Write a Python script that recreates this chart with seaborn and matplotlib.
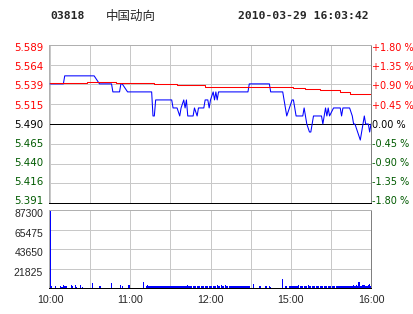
import numpy as np
import pandas as pd
import matplotlib
matplotlib.use("Agg")
import matplotlib.pyplot as plt
import matplotlib.transforms as mtransforms
import seaborn as sns

# ---------------- data ----------------
stock_code = "03818"
stock_name = "中国动向"
timestamp = "2010-03-29 16:03:42"
prev_close = 5.49

price_minutes = [0, 10, 11, 33, 37, 46, 47, 52, 53, 54, 58, 76, 77, 78, 79, 91, 92, 95, 97, 98,
                 100, 101, 102, 103, 107, 108, 110, 111, 115, 116, 118, 119, 120, 122, 123, 124,
                 125, 126, 148, 149, 164, 165, 174, 177, 179, 181, 182, 184, 189, 190, 191, 192,
                 194, 195, 196, 197, 203, 204, 205, 206, 207, 208, 209, 212, 217, 218, 219, 224,
                 226, 227, 228, 230, 232, 233, 234, 235, 236, 238, 239, 240]
price_values = [5.54, 5.54, 5.55, 5.55, 5.54, 5.54, 5.53, 5.53, 5.54, 5.54, 5.53, 5.53, 5.50, 5.50,
                5.52, 5.52, 5.51, 5.51, 5.50, 5.51, 5.52, 5.51, 5.52, 5.50, 5.50, 5.51, 5.50, 5.51,
                5.51, 5.52, 5.52, 5.51, 5.52, 5.53, 5.52, 5.53, 5.52, 5.53, 5.53, 5.54, 5.54, 5.53,
                5.53, 5.50, 5.51, 5.52, 5.52, 5.50, 5.50, 5.51, 5.50, 5.49, 5.48, 5.48, 5.49, 5.50,
                5.50, 5.49, 5.50, 5.51, 5.50, 5.51, 5.50, 5.51, 5.51, 5.50, 5.51, 5.51, 5.50, 5.49,
                5.49, 5.48, 5.47, 5.48, 5.49, 5.50, 5.49, 5.49, 5.48, 5.49]

avg_minutes = [0, 28, 49, 78, 95, 116, 182, 191, 202, 217, 224, 231, 240]
avg_values = [5.541, 5.542, 5.541, 5.540, 5.538, 5.536, 5.535, 5.533, 5.532, 5.530, 5.528, 5.527, 5.527]

volume = [
    87000, 3000, 0, 0, 2500, 0, 0, 0, 2500, 2000,
    3500, 2500, 2500, 0, 0, 0, 3500, 2500, 0, 3500,
    2000, 0, 0, 3500, 2000, 0, 0, 0, 0, 0,
    0, 0, 6000, 0, 0, 0, 0, 2500, 2500, 0,
    0, 0, 0, 0, 0, 0, 5500, 0, 0, 0,
    0, 0, 0, 3500, 2500, 0, 0, 0, 0, 3500,
    0, 0, 0, 0, 0, 0, 0, 0, 0, 0,
    7000, 0, 2500, 3500, 2200, 2200, 2500, 2200, 2200, 2500,
    2200, 2200, 2500, 2200, 2200, 2200, 2500, 2200, 2200, 2200,
    2500, 2200, 2200, 2200, 2500, 2200, 3000, 2200, 2200, 2200,
    2500, 2200, 2200, 3400, 2200, 2500, 2200, 2200, 2200, 2500,
    2200, 2200, 2200, 2500, 2200, 2200, 2200, 2500, 2200, 2200,
    2200, 2500, 2200, 2200, 2200, 3400, 2200, 2200, 3400, 2200,
    2500, 3400, 2200, 2200, 2500, 2200, 2200, 2200, 2500, 2200,
    2200, 2200, 2500, 2200, 2200, 2200, 2500, 2200, 2200, 2200,
    0, 0, 4500, 0, 0, 0, 0, 3000, 0, 0,
    0, 2500, 2500, 0, 2500, 2000, 0, 0, 0, 0,
    0, 0, 0, 0, 10500, 0, 2500, 2200, 0, 3000,
    2200, 2500, 2200, 3000, 2200, 2200, 3400, 2200, 2500, 2200,
    3000, 2200, 2200, 3400, 2200, 2500, 2200, 3000, 2200, 2200,
    2500, 3000, 2200, 2200, 3000, 2200, 2500, 2200, 2200, 3000,
    2200, 2200, 2500, 3000, 2200, 2200, 2500, 2200, 3000, 2200,
    2200, 2500, 2200, 3000, 2200, 2200, 2500, 3400, 2200, 4000,
    2500, 7000, 3000, 2200, 3400, 4000, 2500, 3000, 3400, 4500,
    3000,
]
volume_minutes = list(range(len(volume)))

price_labels = ["5.391", "5.416", "5.440", "5.465", "5.490", "5.515", "5.539", "5.564", "5.589"]
pct_labels = ["-1.80 %", "-1.35 %", "-0.90 %", "-0.45 %", "0.00 %", "+0.45 %", "+0.90 %", "+1.35 %", "+1.80 %"]
pct_steps = [-4, -3, -2, -1, 0, 1, 2, 3, 4]
volume_ticks = [21825, 43650, 65475, 87300]
volume_labels = ["21825", "43650", "65475", "87300"]
time_tick_minutes = [0, 60, 120, 180, 240]
time_tick_labels = ["10:00", "11:00", "12:00", "15:00", "16:00"]

# ---------------- style ----------------
sns.set_theme(style="white")
plt.rcParams["font.family"] = ["DejaVu Sans"]

W, H = 414, 314
fig = plt.figure(figsize=(W / 100, H / 100), dpi=100)
fig.patch.set_facecolor("white")

def fx(px):
    return px / W

def fy(py):
    return 1 - py / H

def shift(label, dy_px):
    label.set_transform(label.get_transform() +
                        mtransforms.ScaledTranslation(0, -dy_px / 100, fig.dpi_scale_trans))

left, right = 49, 371
x0 = -0.75
ax = fig.add_axes([fx(left), fy(203.3), fx(right - left), fy(44.7) - fy(203.3)])
axv = fig.add_axes([fx(left), fy(288.3), fx(right - left), fy(210) - fy(288.3)])

GRID = "#c8c8c8"
RED = "#ff0000"
GREEN = "#005a00"
lw = 0.75
glw = 0.72

# ---------------- main price panel ----------------
price_df = pd.DataFrame({"minute": price_minutes, "price": price_values})
avg_df = pd.DataFrame({"minute": avg_minutes, "avg": avg_values})

ymin, ymax = prev_close * (1 - 0.018), prev_close * (1 + 0.018)
tick_prices = [prev_close * (1 + 0.0045 * k) for k in pct_steps]

ax.set_xlim(x0, 240)
ax.set_ylim(ymin, ymax)
ax.set_xticks(np.arange(0, 241, 30))
ax.set_xticklabels([])
ax.set_yticks(tick_prices)
ax.set_yticklabels(price_labels)
ax.grid(True, color=GRID, linewidth=glw)
ax.axhline(prev_close, color="black", linewidth=glw, zorder=2)

sns.lineplot(data=price_df, x="minute", y="price", ax=ax, color="#0000ff",
             linewidth=lw, estimator=None, zorder=3)
sns.lineplot(data=avg_df, x="minute", y="avg", ax=ax, color=RED,
             linewidth=lw, estimator=None, drawstyle="steps-post", zorder=4)
ax.set_xlabel("")
ax.set_ylabel("")

ax.tick_params(axis="y", length=0, pad=4.3, labelsize=7.4)
ax.tick_params(axis="x", length=0)
for lab, k in zip(ax.get_yticklabels(), pct_steps):
    lab.set_color(RED if k > 0 else ("black" if k == 0 else GREEN))
    i = 4 - k
    shift(lab, 2.3 - 0.64 * i)

for s in ["left", "top"]:
    ax.spines[s].set_color("#b0b0b0")
    ax.spines[s].set_linewidth(glw)
ax.spines["right"].set_color("#808080")
ax.spines["right"].set_linewidth(glw)
ax.spines["bottom"].set_color("black")
ax.spines["bottom"].set_linewidth(glw)

# right percentage axis
axr = ax.twinx()
axr.set_ylim(ymin, ymax)
axr.set_yticks(tick_prices)
axr.set_yticklabels(pct_labels)
axr.tick_params(axis="y", length=0, pad=0.6, labelsize=7.0)
for lab, k in zip(axr.get_yticklabels(), pct_steps):
    lab.set_color(RED if k > 0 else ("black" if k == 0 else GREEN))
    i = 4 - k
    shift(lab, 2.3 - 0.64 * i)
for s in axr.spines.values():
    s.set_visible(False)
axr.grid(False)

# ---------------- volume panel ----------------
vol_df = pd.DataFrame({"minute": volume_minutes, "volume": volume})
sns.barplot(data=vol_df, x="minute", y="volume", ax=axv, native_scale=True,
            color="#0000ff", saturation=1, linewidth=0, edgecolor="none",
            width=0.9, errorbar=None)
for p in axv.patches:
    p.set_antialiased(False)
axv.set_xlim(x0, 240)
axv.set_ylim(0, 87300)
axv.set_yticks(volume_ticks)
axv.set_yticklabels(volume_labels)
axv.set_xticks(np.arange(0, 241, 30))
xlabels = []
for t in np.arange(0, 241, 30):
    xlabels.append(time_tick_labels[time_tick_minutes.index(t)] if t in time_tick_minutes else "")
axv.set_xticklabels(xlabels)
axv.grid(True, color=GRID, linewidth=glw)
axv.set_axisbelow(True)
axv.set_xlabel("")
axv.set_ylabel("")
axv.tick_params(axis="y", length=0, pad=4.3, labelsize=7.5)
axv.tick_params(axis="x", length=0, pad=4.8, labelsize=7.7)
for lab in axv.get_yticklabels():
    lab.set_fontfamily(["Liberation Sans"])
    shift(lab, 3)
for lab in axv.get_xticklabels():
    lab.set_fontfamily(["Liberation Sans"])
for s in ["left", "top"]:
    axv.spines[s].set_color("#b0b0b0")
    axv.spines[s].set_linewidth(glw)
axv.spines["right"].set_color("#808080")
axv.spines["right"].set_linewidth(glw)
axv.spines["bottom"].set_color("black")
axv.spines["bottom"].set_linewidth(glw)

# ---------------- header ----------------
fig.text(fx(50), fy(16), stock_code, fontsize=8.2, fontweight="bold",
         family=["DejaVu Sans Mono"], ha="left", va="center")
fig.text(fx(106), fy(16), stock_name, fontsize=9, family=["Noto Sans CJK SC", "DejaVu Sans"],
         ha="left", va="center")
fig.text(fx(238), fy(16), timestamp, fontsize=8.2, fontweight="bold",
         family=["DejaVu Sans Mono"], ha="left", va="center")

fig.savefig("out.png", dpi=100, facecolor="white")
